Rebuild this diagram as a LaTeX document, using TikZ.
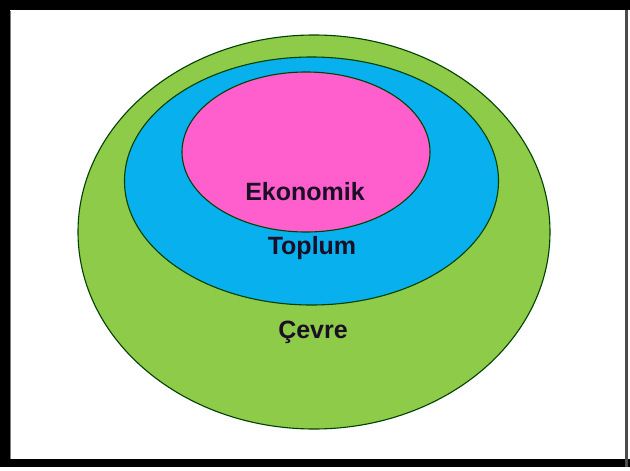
\documentclass[tikz,border=0pt]{standalone}
\usepackage{fontspec}
\setmainfont{Liberation Sans}
\usetikzlibrary{shapes.geometric}
\definecolor{cgreen}{HTML}{8DCB48}
\definecolor{cblue}{HTML}{08B0EE}
\definecolor{cpink}{HTML}{FF5FCC}
\definecolor{ctext}{HTML}{1A0F24}
\begin{document}
\begin{tikzpicture}[x=1pt,y=-1pt,
  ring/.style={draw=black!75!green, line width=1.1pt, ellipse, inner sep=0pt},
  lbl/.style={font=\bfseries\fontsize{25}{28}\selectfont, text=ctext, inner sep=0pt}]
\useasboundingbox (0,0) rectangle (630,471);
\fill[white] (0,0) rectangle (630,471);
% frame
\fill[black] (0,0) rectangle (630,10);
\fill[black] (0,0) rectangle (10,467);
\fill[black] (0,459) rectangle (630,467);
\fill[black!70] (625,10) rectangle (628,467);
\draw[black!50, line width=0.8pt] (10.5,10.5) -- (10.5,459);
% rings
\node[ring, fill=cgreen, minimum width=472pt, minimum height=394pt] (cevreE) at (314,232) {};
\node[ring, fill=cblue, minimum width=374pt, minimum height=248pt] (toplumE) at (311.5,181) {};
\node[ring, fill=cpink, minimum width=248pt, minimum height=160pt] (ekoE) at (306,152) {};
\node[lbl] (eko) at (305,192) {Ekonomik};
\node[lbl] (top) at (312,248) {Toplum};
\node[lbl] (cev) at (313,332) {Çevre};
\end{tikzpicture}
\end{document}
